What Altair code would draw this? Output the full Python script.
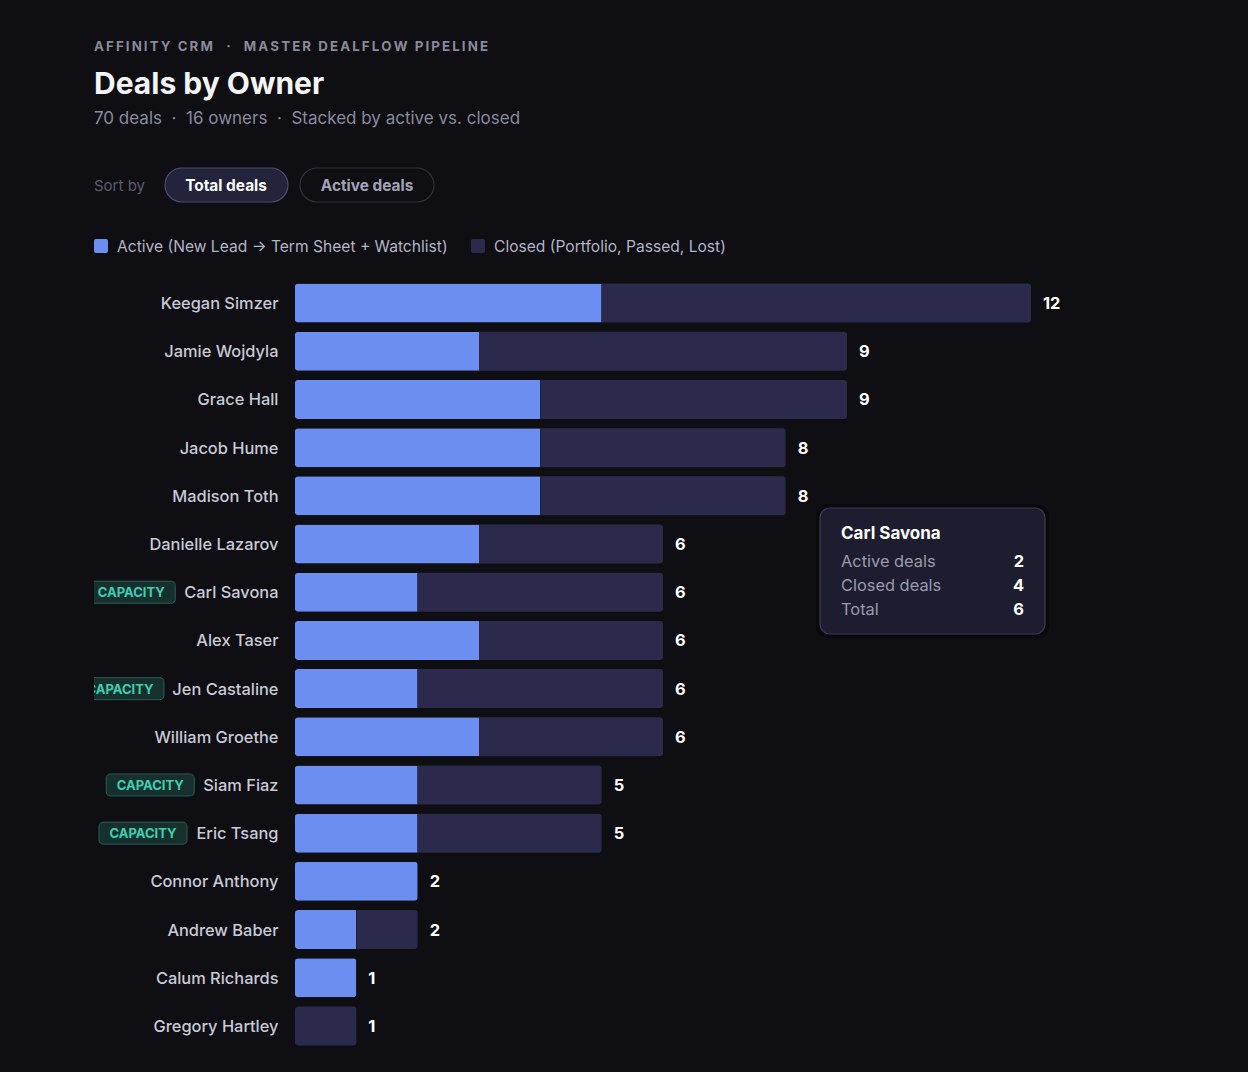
import altair as alt
import pandas as pd

# ---------------- data ----------------
owners = ["Keegan Simzer", "Jamie Wojdyla", "Grace Hall", "Jacob Hume", "Madison Toth",
          "Danielle Lazarov", "Carl Savona", "Alex Taser", "Jen Castaline", "William Groethe",
          "Siam Fiaz", "Eric Tsang", "Connor Anthony", "Andrew Baber", "Calum Richards",
          "Gregory Hartley"]
active = [5, 3, 4, 4, 4, 3, 2, 3, 2, 3, 2, 2, 2, 1, 1, 0]
closed = [7, 6, 5, 4, 4, 3, 4, 3, 4, 3, 3, 3, 0, 1, 0, 1]
capacity = [False, False, False, False, False, False, True, False, True, False,
            True, True, False, False, False, False]

NB = "\u00a0"
SEP = NB * 2 + "·" + NB * 2
eyebrow_parts = ["AFFINITY CRM", "MASTER DEALFLOW PIPELINE"]
title = "Deals by Owner"
subtitle_parts = ["70 deals", "16 owners", "Stacked by active vs. closed"]
sort_label = "Sort by"
buttons = ["Total deals", "Active deals"]
legend_labels = ["Active (New Lead \u2192 Term Sheet + Watchlist)", "Closed (Portfolio, Passed, Lost)"]
tooltip_owner = "Carl Savona"
tooltip_rows = ["Active deals", "Closed deals", "Total"]
badge_text = "CAPACITY"

# ---------------- styles ----------------
BG = "#0e0e13"
C_ACTIVE = "#6c8ef0"
C_CLOSED = "#2b2a4c"
FONT = "Inter"
NAME_SIZE = 16.4

# approximate glyph advance widths (em) for measuring name labels
_W = {' ': .28, 'a': .56, 'b': .60, 'c': .55, 'd': .60, 'e': .57, 'f': .35, 'g': .60, 'h': .58,
      'i': .24, 'j': .24, 'k': .52, 'l': .24, 'm': .87, 'n': .58, 'o': .58, 'p': .60, 'q': .60,
      'r': .37, 's': .52, 't': .35, 'u': .58, 'v': .53, 'w': .78, 'x': .52, 'y': .53, 'z': .52,
      'A': .68, 'B': .64, 'C': .70, 'D': .70, 'E': .58, 'F': .56, 'G': .72, 'H': .72, 'I': .27,
      'J': .50, 'K': .64, 'L': .54, 'M': .86, 'N': .73, 'O': .75, 'P': .62, 'Q': .75, 'R': .64,
      'S': .62, 'T': .60, 'U': .72, 'V': .66, 'W': .94, 'X': .65, 'Y': .64, 'Z': .62}


def text_w(s, size=16, k=1.05):
    return sum(_W.get(ch, .58) for ch in s) * size * k


LABEL_PAD = 17
BADGE_W = 88
BADGE_GAP = 9

df = pd.DataFrame({"owner": owners, "active": active, "closed": closed, "capacity": capacity})
df["total"] = df["active"] + df["closed"]
df["bx2"] = [-(LABEL_PAD + text_w(o) + BADGE_GAP) for o in owners]
df["bx"] = df["bx2"] - BADGE_W
df["bxc"] = (df["bx"] + df["bx2"]) / 2
df["badge"] = badge_text

PW, PH = 736, 771

yenc = alt.Y("owner:N", sort=owners,
             scale=alt.Scale(paddingInner=0.19, paddingOuter=0.095),
             axis=alt.Axis(title=None, domain=False, ticks=False, grid=False,
                           labelPadding=LABEL_PAD, labelFontSize=NAME_SIZE, labelFont=FONT,
                           labelFontWeight=500, labelColor="#c9c9d8", labelOffset=1))
xscale = alt.Scale(domain=[0, 12], nice=False, zero=True)

base = alt.Chart(df)

act_l = base.transform_filter("datum.active > 0 && datum.closed > 0").mark_bar(
    color=C_ACTIVE, cornerRadiusTopLeft=3, cornerRadiusBottomLeft=3).encode(
    x=alt.X("active:Q", scale=xscale, axis=None), y=yenc)
act_f = base.transform_filter("datum.active > 0 && datum.closed == 0").mark_bar(
    color=C_ACTIVE, cornerRadius=3).encode(
    x=alt.X("active:Q", scale=xscale, axis=None), y=yenc)
clo_r = base.transform_filter("datum.closed > 0 && datum.active > 0").mark_bar(
    color=C_CLOSED, cornerRadiusTopRight=3, cornerRadiusBottomRight=3).encode(
    x=alt.X("active:Q", scale=xscale, axis=None), x2="total:Q", y=yenc)
clo_f = base.transform_filter("datum.closed > 0 && datum.active == 0").mark_bar(
    color=C_CLOSED, cornerRadius=3).encode(
    x=alt.X("active:Q", scale=xscale, axis=None), x2="total:Q", y=yenc)

totals = base.mark_text(align="left", baseline="middle", dx=12, dy=1, font=FONT, fontSize=16.4,
                        fontWeight=700, color="#ffffff").encode(
    x=alt.X("total:Q", scale=xscale, axis=None), y=yenc, text="total:Q")

badge_box = base.transform_filter("datum.capacity").mark_bar(
    size=22, fill="#16302d", stroke="#2b5d55", strokeWidth=1, cornerRadius=4).encode(
    x=alt.X("bx:Q", scale=None), x2="bx2:Q", y=yenc)
badge_txt = base.transform_filter("datum.capacity").mark_text(
    align="center", baseline="middle", dy=1, font=FONT, fontSize=13, fontWeight=700,
    color="#3fcfb3").encode(x=alt.X("bxc:Q", scale=None), y=yenc, text="badge:N")

one = alt.Data(values=[{"k": 1}])


def txt(s, x, y, size, color, weight=400, align="left"):
    return alt.Chart(one).mark_text(align=align, baseline="middle", font=FONT, fontSize=size,
                                    fontWeight=weight, color=color).encode(
        x=alt.value(x), y=alt.value(y), text=alt.value(s))


def box(x, x2, y, y2, fill, stroke=None, radius=0, sw=1):
    kw = dict(fill=fill, cornerRadius=radius)
    if stroke:
        kw.update(stroke=stroke, strokeWidth=sw)
    return alt.Chart(one).mark_rect(**kw).encode(
        x=alt.value(x), x2=alt.value(x2), y=alt.value(y), y2=alt.value(y2))


# clip the badges at the left edge of the content column
clip = box(-300, -201, 0, PH, BG)

spaced = ("\u2002\u2002·\u2002\u2002").join("\u2009".join(list(p)) for p in eyebrow_parts)
header = [
    txt(spaced, -201, -232, 13.3, "#8a8a9c", 700),
    txt(title, -201, -194, 30, "#f4f4f7", 700),
    txt(SEP.join(subtitle_parts), -201, -160, 17, "#8b8b9e", 400),
    txt(sort_label, -201, -93, 15, "#5c5c6f", 400),
    box(-130, -7, -111, -77, "#23233b", "#4b4b72", 17, 1.2),
    txt(buttons[0], -69, -93, 15.4, "#ffffff", 700, "center"),
    box(5, 139, -111, -77, BG, "#2f2f40", 17, 1.2),
    txt(buttons[1], 72, -93, 15.4, "#a3a3b6", 700, "center"),
    box(-201, -187, -40, -26, C_ACTIVE, radius=2),
    txt(legend_labels[0], -178, -32, 15.6, "#b4b4c6", 400),
    box(176, 190, -40, -26, C_CLOSED, radius=2),
    txt(legend_labels[1], 199, -32, 15.6, "#b4b4c6", 400),
]

row = df[df["owner"] == tooltip_owner].iloc[0]
vals = [int(row["active"]), int(row["closed"]), int(row["total"])]
tooltip = [
    box(521, 754, 225, 359, "#0a0a0e", radius=13),
    box(525, 750, 229, 355, "#1e1d2f", "#3b3b52", 10, 1.2),
    txt(tooltip_owner, 546, 255, 17, "#ffffff", 700),
]
for i, (lab, v) in enumerate(zip(tooltip_rows, vals)):
    tooltip.append(txt(lab, 546, 283 + 24 * i, 16.4, "#9a9aae", 400))
    tooltip.append(txt(str(v), 729, 283 + 24 * i, 16.4, "#ffffff", 700, "right"))

chart = alt.layer(
    act_l, act_f, clo_r, clo_f, totals, badge_box, badge_txt, clip, *header, *tooltip
).properties(
    width=PW, height=PH,
    padding={"left": 295, "top": 279, "right": 217, "bottom": 22},
    autosize=alt.AutoSizeParams(type="none"),
    background=BG,
).configure_view(stroke=None).resolve_scale(x="shared")

chart.save("out.html", embed_options={"renderer": "svg", "actions": False})
